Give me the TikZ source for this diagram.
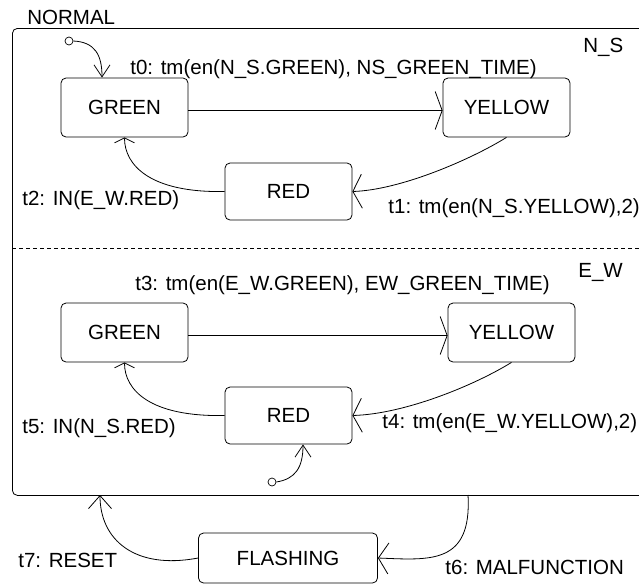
\documentclass[tikz,border=0pt]{standalone}
\usepackage{fontspec}
\setmainfont{Liberation Sans}
\usetikzlibrary{arrows.meta}
\begin{document}
\begin{tikzpicture}[x=1pt,y=-1pt, line width=0.8pt,
  txt/.style={font=\fontsize{20.5}{24}\selectfont},
  stbox/.style={txt, draw, rounded corners=5pt, minimum width=127pt, minimum height=59pt, inner sep=0pt},
  lbl/.style={txt, anchor=base west, inner sep=0pt},
  initdot/.style={circle, draw, minimum size=8pt, inner sep=0pt, line width=0.7pt},
  tipwide/.style={-{Straight Barb[length=7pt,width=38pt]}},
  tipyr/.style={-{Straight Barb[length=9pt,width=34pt]}},
  tipinit/.style={-{Straight Barb[length=12pt,width=16pt]}},
  tiprg/.style={-{Straight Barb[length=5pt,width=20pt]}},
  tipreset/.style={-{Straight Barb[length=13pt,width=23pt]}},
  tipmal/.style={-{Straight Barb[length=10pt,width=31pt]}}]
\useasboundingbox (0,0) rectangle (639,584);
\clip (0,0) rectangle (639,584);

% outer superstate
\node[draw, rounded corners=5pt, minimum width=660pt, minimum height=467pt, anchor=north west, inner sep=0pt] (normal) at (12,28) {};
\node[lbl] (normallbl) at (27,24) {NORMAL};
\coordinate (dl) at (12,248);
\coordinate (dr) at (672,248);
\draw[dash pattern=on 4pt off 3pt, line width=0.6pt] (dl) -- (dr);

% N_S region
\node[lbl] (nslbl) at (583,52) {N\_S};
\node[stbox] (gns) at (124.5,107.5) {GREEN};
\node[stbox] (yns) at (506.5,107.5) {YELLOW};
\node[stbox, minimum height=57pt] (rns) at (288.5,191.5) {RED};
\node[initdot] (ins) at (69,41) {};

\draw[tipinit] (ins.east) .. controls (95,42) and (102,55) .. ([xshift=-22.5pt]gns.north);
\draw[tipwide] ([yshift=-3pt]gns.east) -- ([yshift=-3pt]yns.west);
\draw[tipyr] (yns.south) .. controls (470,160) and (400,190) .. (rns.east);
\draw[tiprg] (rns.west) .. controls (150,193) and (124.5,165) .. (gns.south);

\node[lbl] (t0) at (130,74) {t0: tm(en(N\_S.GREEN), NS\_GREEN\_TIME)};
\node[lbl] (t1) at (388,213) {t1: tm(en(N\_S.YELLOW),2)};
\node[lbl] (t2) at (22,205) {t2: IN(E\_W.RED)};

% E_W region
\node[lbl] (ewlbl) at (578,277) {E\_W};
\node[stbox] (gew) at (124.5,332.5) {GREEN};
\node[stbox] (yew) at (511.5,332.5) {YELLOW};
\node[stbox, minimum height=57pt] (rew) at (288.5,415.5) {RED};
\node[initdot] (iew) at (272,482) {};

\draw[tipinit] (iew.east) .. controls (295,479) and (303,468) .. ([xshift=14.5pt]rew.south);
\draw[tipwide] ([yshift=-3pt]gew.east) -- ([yshift=-3pt]yew.west);
\draw[tipyr] (yew.south) .. controls (475,385) and (405,414) .. (rew.east);
\draw[tiprg] (rew.west) .. controls (150,417) and (124.5,390) .. (gew.south);

\node[lbl] (t3) at (135,290) {t3: tm(en(E\_W.GREEN), EW\_GREEN\_TIME)};
\node[lbl] (t4) at (382,428) {t4: tm(en(E\_W.YELLOW),2)};
\node[lbl] (t5) at (22,433) {t5: IN(N\_S.RED)};

% FLASHING
\node[stbox, minimum width=179pt, minimum height=50pt] (fl) at (288,558) {FLASHING};
\coordinate (resetend) at (100,495);
\coordinate (malstart) at (468,495);
\draw[tipreset] (fl.west) .. controls (135,570) and (100,540) .. (resetend);
\draw[tipmal] (malstart) .. controls (472,565) and (430,560) .. (fl.east);

\node[lbl] (t7) at (18,567) {t7: RESET};
\node[lbl] (t6) at (445,574) {t6: MALFUNCTION};
\end{tikzpicture}
\end{document}
